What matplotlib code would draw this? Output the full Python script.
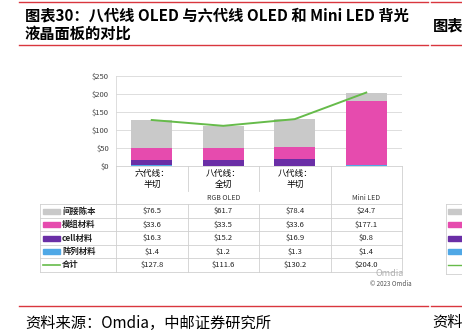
import matplotlib
matplotlib.use('Agg')
import matplotlib.pyplot as plt
from matplotlib.lines import Line2D
from matplotlib.patches import Rectangle

plt.rcParams['font.family'] = ['Noto Sans CJK SC', 'DejaVu Sans']

# ---- data ----
categories = ['六代线：\n半切', '八代线：\n全切', '八代线：\n半切', '']
groups = ['RGB OLED', 'Mini LED']
series_names = ['间接陈本', '模组材料', 'cell材料', '阵列材料']
indirect = [76.5, 61.7, 78.4, 24.7]
module = [33.6, 33.5, 33.6, 177.1]
cell = [16.3, 15.2, 16.9, 0.8]
array_mat = [1.4, 1.2, 1.3, 1.4]
total = [127.8, 111.6, 130.2, 204.0]
yticks = [0, 50, 100, 150, 200, 250]

c_gray = '#c9c9c9'
c_pink = '#e64bae'
c_purple = '#6a2ea6'
c_blue = '#4fa8e6'
c_green = '#66bb4a'
c_red = '#d9363e'
c_grid = '#d8d8d8'

W, H = 462, 333
def fx(x):
    return x / W
def fy(y):
    return 1 - y / H

fig = plt.figure(figsize=(W / 100, H / 100), dpi=100)

# ---- header / footer ----
for y in (2, 45, 306):
    fig.add_artist(Line2D([fx(19), fx(428)], [fy(y), fy(y)], color=c_red, lw=1.0))
    fig.add_artist(Line2D([fx(431), fx(462)], [fy(y), fy(y)], color=c_red, lw=1.0))
fig.text(fx(25), fy(15), '图表30：八代线 OLED 与六代线 OLED 和 Mini LED 背光',
         fontsize=11, fontweight='bold', va='center', ha='left')
fig.text(fx(25), fy(34), '液晶面板的对比', fontsize=11, fontweight='bold', va='center', ha='left')
fig.text(fx(433), fy(25), '图表', fontsize=11, fontweight='bold', va='center', ha='left')
fig.text(fx(25), fy(323), '资料来源：Omdia，中邮证券研究所', fontsize=11, va='center', ha='left')
fig.text(fx(432), fy(323), '资料', fontsize=11, va='center', ha='left')

# ---- bar chart ----
x0, x1, ytop, ybot = 116, 402, 76, 166
ax = fig.add_axes([fx(x0), fy(ybot), (x1 - x0) / W, (ybot - ytop) / H])
xs = range(len(total))
bw = 0.58
bottom = [0] * 4
for vals, col in [(array_mat, c_blue), (cell, c_purple), (module, c_pink), (indirect, c_gray)]:
    ax.bar(xs, vals, bw, bottom=bottom, color=col, zorder=3)
    bottom = [b + v for b, v in zip(bottom, vals)]
ax.plot(xs, total, color=c_green, lw=1.4, zorder=4)
ax.set_xlim(-0.5, 3.5)
ax.set_ylim(0, 250)
ax.set_yticks(yticks)
ax.set_yticklabels([f'${t}' for t in yticks], fontsize=5.5, color='#404040')
ax.set_xticks([])
ax.grid(axis='y', color=c_grid, lw=0.6, zorder=0)
ax.tick_params(axis='y', length=0, pad=5)
for s in ('top', 'right', 'bottom'):
    ax.spines[s].set_visible(False)
ax.spines['left'].set_color(c_grid)
ax.spines['left'].set_linewidth(0.6)

# ---- category axis area ----
col_edges = [116, 188, 259, 331, 402]
col_centers = [(a + b) / 2 for a, b in zip(col_edges[:-1], col_edges[1:])]
lc = '#d0d0d0'
fig.add_artist(Line2D([fx(116), fx(402)], [fy(166), fy(166)], color=lc, lw=0.6))
for xe in (116, 331, 402):
    fig.add_artist(Line2D([fx(xe), fx(xe)], [fy(166), fy(204)], color=lc, lw=0.6))
for xe in (188, 259):
    fig.add_artist(Line2D([fx(xe), fx(xe)], [fy(166), fy(191)], color=lc, lw=0.6))
for xc, lab in zip(col_centers, categories):
    fig.text(fx(xc), fy(179), lab, fontsize=6.3, ha='center', va='center', linespacing=1.2)
fig.text(fx((116 + 331) / 2), fy(197.5), groups[0], fontsize=5, ha='center', va='center', color='#333333')
fig.text(fx(col_centers[3]), fy(197.5), groups[1], fontsize=5, ha='center', va='center', color='#333333')

# ---- data table ----
row_edges = [204.3, 217.7, 231, 245, 258.3, 271.7]
row_centers = [(a + b) / 2 for a, b in zip(row_edges[:-1], row_edges[1:])]
for ye in row_edges:
    fig.add_artist(Line2D([fx(40), fx(402)], [fy(ye), fy(ye)], color=lc, lw=0.6))
for xe in [40] + col_edges:
    fig.add_artist(Line2D([fx(xe), fx(xe)], [fy(204.3), fy(271.7)], color=lc, lw=0.6))

rows = [indirect, module, cell, array_mat, total]
names = series_names + ['合计']
swatch = [c_gray, c_pink, c_purple, c_blue, None]
for yc, name, vals, col in zip(row_centers, names, rows, swatch):
    if col is None:
        fig.add_artist(Line2D([fx(43), fx(60)], [fy(yc), fy(yc)], color=c_green, lw=1.2))
    else:
        fig.add_artist(Rectangle((fx(43), fy(yc + 2.5)), 17 / W, 5 / H, color=col))
    fig.text(fx(62), fy(yc), name, fontsize=6, fontweight='bold', ha='left', va='center', color='#222222')
    for xc, v in zip(col_centers, vals):
        fig.text(fx(xc), fy(yc), f'${v:.1f}', fontsize=5.5, ha='center', va='center', color='#222222')

fig.text(fx(404), fy(274), 'Omdia', fontsize=6.5, ha='right', va='center', color='#b0b0b0')
fig.text(fx(412), fy(284.5), '© 2023 Omdia', fontsize=4.5, ha='right', va='center', color='#555555')

# ---- partial neighbour panel on the right ----
for yc, col in zip(row_centers, swatch):
    if col is None:
        fig.add_artist(Line2D([fx(448), fx(462)], [fy(yc), fy(yc)], color=c_green, lw=1.0))
    else:
        fig.add_artist(Rectangle((fx(448), fy(yc + 2.5)), 14 / W, 5 / H, color=col))
fig.add_artist(Line2D([fx(446), fx(446)], [fy(204.3), fy(274)], color=lc, lw=0.6))
fig.add_artist(Line2D([fx(446), fx(462)], [fy(204.3), fy(204.3)], color=lc, lw=0.6))
fig.add_artist(Line2D([fx(446), fx(462)], [fy(274), fy(274)], color=lc, lw=0.6))

fig.savefig('out.png', dpi=100)
